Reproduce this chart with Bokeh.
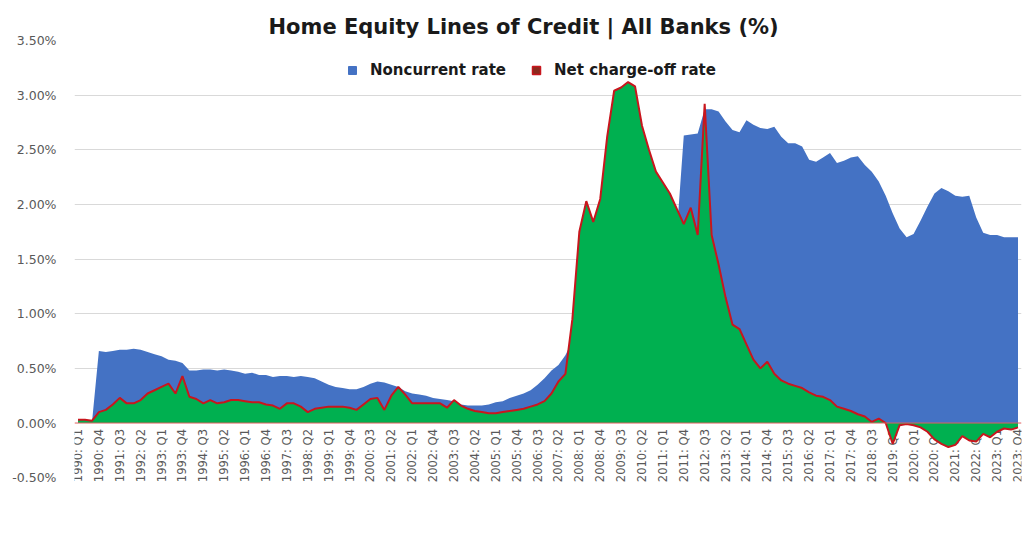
import math
from bokeh.plotting import figure
from bokeh.models import (Range1d, FixedTicker, PrintfTickFormatter, Legend, LegendItem,
                          ColumnDataSource, BoxAnnotation, Span)
from bokeh.core.properties import value
from bokeh.embed import file_html
from bokeh.resources import INLINE

# ---------------- data ----------------
years = list(range(1990, 2024))
quarters = [f"{y}: Q{q}" for y in years for q in range(1, 5)]

noncurrent_rate = [
    0.00, 0.00, 0.00, 0.66, 0.65, 0.66, 0.67, 0.67, 0.68, 0.67,
    0.65, 0.63, 0.61, 0.58, 0.57, 0.55, 0.48, 0.48, 0.49, 0.49,
    0.48, 0.49, 0.48, 0.47, 0.45, 0.46, 0.44, 0.44, 0.42, 0.43,
    0.43, 0.42, 0.43, 0.42, 0.41, 0.38, 0.35, 0.33, 0.32, 0.31,
    0.31, 0.33, 0.36, 0.38, 0.37, 0.35, 0.33, 0.29, 0.27, 0.26,
    0.25, 0.23, 0.22, 0.21, 0.20, 0.17, 0.16, 0.16, 0.16, 0.17,
    0.19, 0.20, 0.23, 0.25, 0.27, 0.30, 0.35, 0.41, 0.48, 0.53,
    0.62, 0.75, 0.90, 1.05, 1.20, 1.30, 1.40, 1.45, 1.50, 1.55,
    1.60, 1.62, 1.65, 1.68, 1.70, 1.72, 1.74, 2.63, 2.64, 2.65,
    2.87, 2.87, 2.85, 2.76, 2.68, 2.66, 2.77, 2.73, 2.70, 2.69,
    2.71, 2.62, 2.56, 2.56, 2.53, 2.41, 2.39, 2.43, 2.47, 2.38,
    2.40, 2.43, 2.44, 2.36, 2.30, 2.21, 2.08, 1.92, 1.78, 1.70,
    1.73, 1.85, 1.98, 2.10, 2.15, 2.12, 2.08, 2.07, 2.08, 1.88,
    1.74, 1.72, 1.72, 1.70, 1.70, 1.70,
]

net_chargeoff_rate = [
    0.03, 0.03, 0.02, 0.10, 0.12, 0.17, 0.23, 0.18, 0.18, 0.21,
    0.27, 0.30, 0.33, 0.36, 0.27, 0.43, 0.24, 0.22, 0.18, 0.21,
    0.18, 0.19, 0.21, 0.21, 0.20, 0.19, 0.19, 0.17, 0.16, 0.13,
    0.18, 0.18, 0.15, 0.10, 0.13, 0.14, 0.15, 0.15, 0.15, 0.14,
    0.12, 0.17, 0.22, 0.23, 0.12, 0.25, 0.33, 0.26, 0.18, 0.18,
    0.18, 0.18, 0.18, 0.14, 0.21, 0.16, 0.13, 0.11, 0.10, 0.09,
    0.09, 0.10, 0.11, 0.12, 0.13, 0.15, 0.17, 0.20, 0.27, 0.38,
    0.45, 0.95, 1.75, 2.03, 1.84, 2.05, 2.62, 3.04, 3.07, 3.12,
    3.08, 2.72, 2.50, 2.30, 2.20, 2.10, 1.96, 1.82, 1.97, 1.72,
    2.92, 1.72, 1.45, 1.15, 0.90, 0.86, 0.72, 0.58, 0.50, 0.56,
    0.45, 0.39, 0.36, 0.34, 0.32, 0.28, 0.25, 0.24, 0.21, 0.15,
    0.13, 0.11, 0.08, 0.06, 0.01, 0.04, 0.00, -0.19, -0.02, -0.01,
    -0.02, -0.04, -0.08, -0.15, -0.19, -0.22, -0.20, -0.12, -0.16, -0.17,
    -0.10, -0.13, -0.08, -0.05, -0.06, -0.04,
]

tick_labels = [
    "1990: Q1", "1990: Q4", "1991: Q3", "1992: Q2", "1993: Q1", "1993: Q4",
    "1994: Q3", "1995: Q2", "1996: Q1", "1996: Q4", "1997: Q3", "1998: Q2",
    "1999: Q1", "1999: Q4", "2000: Q3", "2001: Q2", "2002: Q1", "2002: Q4",
    "2003: Q3", "2004: Q2", "2005: Q1", "2005: Q4", "2006: Q3", "2007: Q2",
    "2008: Q1", "2008: Q4", "2009: Q3", "2010: Q2", "2011: Q1", "2011: Q4",
    "2012: Q3", "2013: Q2", "2014: Q1", "2014: Q4", "2015: Q3", "2016: Q2",
    "2017: Q1", "2017: Q4", "2018: Q3", "2019: Q2", "2020: Q1", "2020: Q4",
    "2021: Q3", "2022: Q2", "2023: Q1", "2023: Q4",
]
y_ticks = [-0.5, 0.0, 0.5, 1.0, 1.5, 2.0, 2.5, 3.0, 3.5]
grid_ticks = [0.5, 1.0, 1.5, 2.0, 2.5, 3.0, 3.5]

# ---------------- build ----------------
idx = list(range(len(quarters)))
tick_idx = [quarters.index(t) for t in tick_labels]
zeros = [0.0] * len(idx)

src = ColumnDataSource(dict(x=idx, nc=noncurrent_rate, co=net_chargeoff_rate, z=zeros))
lab_src = ColumnDataSource(dict(x=tick_idx, y=[0.0] * len(tick_idx), t=tick_labels))

BLUE = "#4472C4"
GREEN = "#00B050"
RED = "#C8161D"

p = figure(width=1029, height=534, output_backend="svg", toolbar_location=None,
           x_range=Range1d(-0.5, len(idx) - 0.5), y_range=Range1d(-1.02, 3.5),
           min_border_left=74, min_border_right=8, min_border_top=40, min_border_bottom=0,
           title="Home Equity Lines of Credit | All Banks (%)")

p.title.align = "left"
p.title.offset = 194
p.title.text_font = "DejaVu Sans"
p.title.text_font_size = "21px"
p.title.text_font_style = "bold"
p.title.text_color = "#1a1a1a"
p.title.standoff = 4

p.outline_line_color = None
p.background_fill_color = "white"
p.border_fill_color = "white"

# x labels sit at the zero line, under the areas
p.text(x="x", y="y", text="t", source=lab_src, angle=math.pi / 2,
       text_align="right", text_baseline="middle", y_offset=6,
       text_font=value("DejaVu Sans"), text_font_size=value("11.5px"),
       text_color="#595959", level="underlay")

p.varea(x="x", y1="z", y2="nc", source=src, fill_color=BLUE)
p.varea(x="x", y1="z", y2="co", source=src, fill_color=GREEN)
p.line(x="x", y="co", source=src, line_color=RED, line_width=2)

# zero (category) axis line
p.add_layout(Span(location=0, dimension="width", line_color="#E06060", line_width=1))

# y axis
p.yaxis.ticker = FixedTicker(ticks=y_ticks)
p.yaxis.formatter = PrintfTickFormatter(format="%.2f%%")
p.yaxis.axis_line_color = None
p.yaxis.major_tick_line_color = None
p.yaxis.minor_tick_line_color = None
p.yaxis.major_label_text_font = "DejaVu Sans"
p.yaxis.major_label_text_font_size = "12.5px"
p.yaxis.major_label_text_color = "#595959"
p.yaxis.major_label_standoff = 12

p.xaxis.visible = False
p.xgrid.grid_line_color = None
p.ygrid.ticker = FixedTicker(ticks=grid_ticks)
p.ygrid.grid_line_color = "#D9D9D9"
p.ygrid.grid_line_width = 1

# legend (square markers, not plotted)
nan = float("nan")
leg_nc = p.scatter(x=[nan], y=[nan], marker="square", fill_color=BLUE, line_color=BLUE)
leg_co = p.scatter(x=[nan], y=[nan], marker="square", fill_color="#8B2A1E",
                   line_color=RED, line_width=1.5)
legend = Legend(items=[LegendItem(label="Noncurrent rate", renderers=[leg_nc]),
                       LegendItem(label="Net charge-off rate", renderers=[leg_co])],
                orientation="horizontal", location=(268, 454),
                border_line_color=None, background_fill_alpha=0,
                label_text_font="DejaVu Sans", label_text_font_style="bold",
                label_text_font_size="15px", label_text_color="#1a1a1a",
                label_standoff=8, spacing=20, margin=10, padding=10)
p.add_layout(legend)

# faint chart-area border
p.add_layout(BoxAnnotation(left=6, right=1100, top=5, bottom=600,
                           left_units="canvas", right_units="canvas",
                           top_units="canvas", bottom_units="canvas",
                           fill_alpha=0, line_color="#E3E3E3", line_width=1))

open("out.html", "w").write(file_html(p, INLINE))
